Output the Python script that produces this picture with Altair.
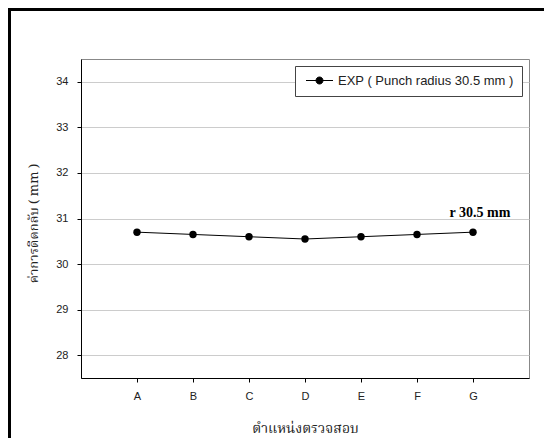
import altair as alt
import pandas as pd

positions = ["A", "B", "C", "D", "E", "F", "G"]
springback = [30.70, 30.65, 30.60, 30.55, 30.60, 30.65, 30.70]
series_name = "EXP ( Punch radius 30.5 mm )"
y_ticks = [28, 29, 30, 31, 32, 33, 34]
note_text = "r 30.5 mm"
note_pos = "G"
note_value = 31.0

df = pd.DataFrame({"pos": positions, "val": springback, "series": [series_name] * len(positions)})
note_df = pd.DataFrame({"pos": [note_pos], "val": [note_value], "label": [note_text]})

W, H = 448, 319
PL, PT, PR, PB = 73, 51, 15, 60

THAI = "Noto Serif Thai, Noto Sans Thai, Loma, Garuda, Liberation Serif, serif"
SANS = "Liberation Sans, Arial, sans-serif"

xenc = alt.X(
    "pos:O",
    sort=positions,
    scale=alt.Scale(type="point", padding=1),
    axis=alt.Axis(
        title="ตำแหน่งตรวจสอบ",
        labelAngle=0,
        tickSize=4,
        labelPadding=8,
        grid=False,
        domainColor="black",
        tickColor="black",
        labelFont=SANS,
        labelFontSize=11,
        labelColor="#222",
        titleFont=THAI,
        titleFontSize=14,
        titleFontWeight="normal",
        titleColor="#222",
        titleY=54,
        titleBaseline="alphabetic",
    ),
)
yenc = alt.Y(
    "val:Q",
    scale=alt.Scale(domain=[27.5, 34.5], nice=False, zero=False),
    axis=alt.Axis(
        title="ค่าการดีดกลับ ( mm )",
        values=y_ticks,
        tickSize=4,
        labelPadding=9,
        grid=True,
        gridColor="#cccccc",
        domainColor="black",
        tickColor="black",
        labelFont=SANS,
        labelFontSize=11,
        labelColor="#222",
        titleFont=THAI,
        titleFontSize=13,
        titleFontWeight="normal",
        titleColor="#222",
        titleX=-41,
        titleY=164,
    ),
)

sym = "M-2.7,0H2.7M0.7,0A0.7,0.7,0,1,1,-0.7,0A0.7,0.7,0,1,1,0.7,0Z"

line = alt.Chart(df).mark_line(strokeWidth=1).encode(
    x=xenc,
    y=yenc,
    color=alt.Color(
        "series:N",
        scale=alt.Scale(range=["black"]),
        legend=alt.Legend(
            title=None,
            orient="top-right",
            offset=7,
            padding=8,
            strokeColor="#444",
            fillColor="white",
            symbolType=sym,
            symbolSize=100,
            symbolStrokeWidth=1,
            symbolFillColor="black",
            symbolStrokeColor="black",
            symbolOffset=10,
            labelFont=SANS,
            labelFontSize=13,
            labelColor="#222",
            labelLimit=400,
            labelOffset=12,
        ),
    ),
)
pts = alt.Chart(df).mark_point(filled=True, size=55, opacity=1, color="black").encode(x="pos:O", y="val:Q")

note = alt.Chart(note_df).mark_text(
    font="Liberation Serif", fontSize=14, fontWeight="bold", align="center", baseline="alphabetic", dx=7, dy=-2, color="black"
).encode(x="pos:O", y="val:Q", text="label:N")

frame = alt.Chart(note_df).mark_rect(fill="transparent", stroke="black", strokeWidth=3).encode(
    x=alt.value(-PL + 1.5), x2=alt.value(W + PR + 40), y=alt.value(-PT + 1.5), y2=alt.value(H + PB + 40)
)

chart = (
    alt.layer(line, pts, note, frame)
    .properties(
        width=W,
        height=H,
        autosize=alt.AutoSizeParams(type="none"),
        padding={"left": PL, "top": PT, "right": PR, "bottom": PB},
        background="white",
    )
    .configure_view(stroke="#888888", strokeWidth=1)
)

chart.save("out.html", embed_options={"renderer": "svg", "actions": False})
